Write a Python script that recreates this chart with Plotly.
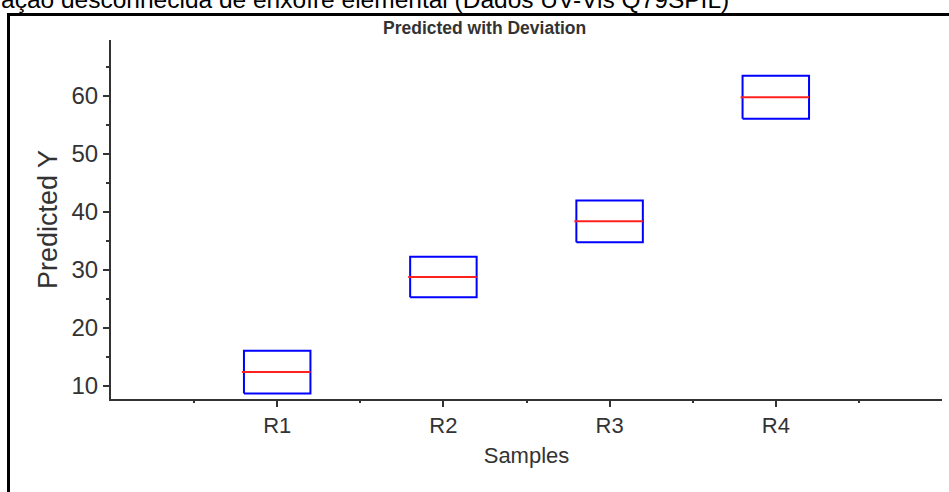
import plotly.graph_objects as go

samples = ["R1", "R2", "R3", "R4"]
predicted = [12.4, 28.8, 38.4, 59.8]
deviation = [3.7, 3.5, 3.6, 3.7]

title_text = "ação desconhecida de enxofre elemental (Dados UV-Vis Q79SPIL)"
subtitle_text = "Predicted with Deviation"
x_title = "Samples"
y_title = "Predicted Y"

FONT = "Liberation Sans, Arial, Helvetica, sans-serif"
HALF = 0.2

fig = go.Figure()
xpos = list(range(len(samples)))
for i, (p, d) in enumerate(zip(predicted, deviation)):
    lo, hi = p - d, p + d
    fig.add_trace(go.Scatter(
        x=[i - HALF, i + HALF, i + HALF, i - HALF, i - HALF],
        y=[lo, lo, hi, hi, lo],
        mode="lines", line=dict(color="#0000ff", width=2),
        hoverinfo="skip", showlegend=False))
    fig.add_trace(go.Scatter(
        x=[i - HALF - 0.012, i + HALF], y=[p, p],
        mode="lines", line=dict(color="#ff2020", width=2),
        name=samples[i], showlegend=False))

L, R, T, B = 111, 7, 40, 93
W, H = 949, 492
pw, ph = W - L - R, H - T - B

def px(x):
    return (x - L) / pw

def py(y):
    return (H - B - y) / ph

fig.update_layout(
    width=W, height=H,
    margin=dict(l=L, r=R, t=T, b=B, autoexpand=False),
    paper_bgcolor="white", plot_bgcolor="white",
    font=dict(family=FONT, color="#333333"),
    xaxis=dict(
        range=[-1, 4], tickvals=xpos, ticktext=samples,
        showline=True, linecolor="#333333", linewidth=2,
        ticks="outside", ticklen=6, tickwidth=1.5, tickcolor="#333333",
        minor=dict(ticks="outside", ticklen=2, tick0=0.5, dtick=1, tickcolor="#333333"),
        showgrid=False, zeroline=False,
        tickfont=dict(size=22, color="#333333"),
        title=dict(text=x_title, font=dict(size=22, color="#333333"), standoff=10),
    ),
    yaxis=dict(
        range=[7.76, 69.66], tick0=0, dtick=10,
        showline=True, linecolor="#333333", linewidth=2,
        ticks="outside", ticklen=6, tickwidth=1.5, tickcolor="#333333",
        minor=dict(ticks="outside", ticklen=3, tick0=0, dtick=5, tickcolor="#333333"),
        showgrid=False, zeroline=False,
        tickfont=dict(size=24, color="#333333"),
        title=dict(text=y_title, font=dict(size=27, color="#333333"), standoff=6),
    ),
    shapes=[dict(type="rect", xref="paper", yref="paper",
                 x0=px(8.5), x1=px(970), y0=py(520), y1=py(14.5),
                 line=dict(color="black", width=3), fillcolor="rgba(0,0,0,0)")],
    annotations=[
        dict(text=title_text, xref="paper", yref="paper", x=px(-1), y=py(0),
             xanchor="left", yanchor="middle", showarrow=False,
             font=dict(size=24.5, color="black", family=FONT)),
        dict(text="<b>" + subtitle_text + "</b>", xref="paper", yref="paper",
             x=px(484), y=py(27.5), xanchor="center", yanchor="middle",
             showarrow=False, font=dict(size=17.5, color="#333333", family=FONT)),
    ],
)

fig.write_html("out.html")
